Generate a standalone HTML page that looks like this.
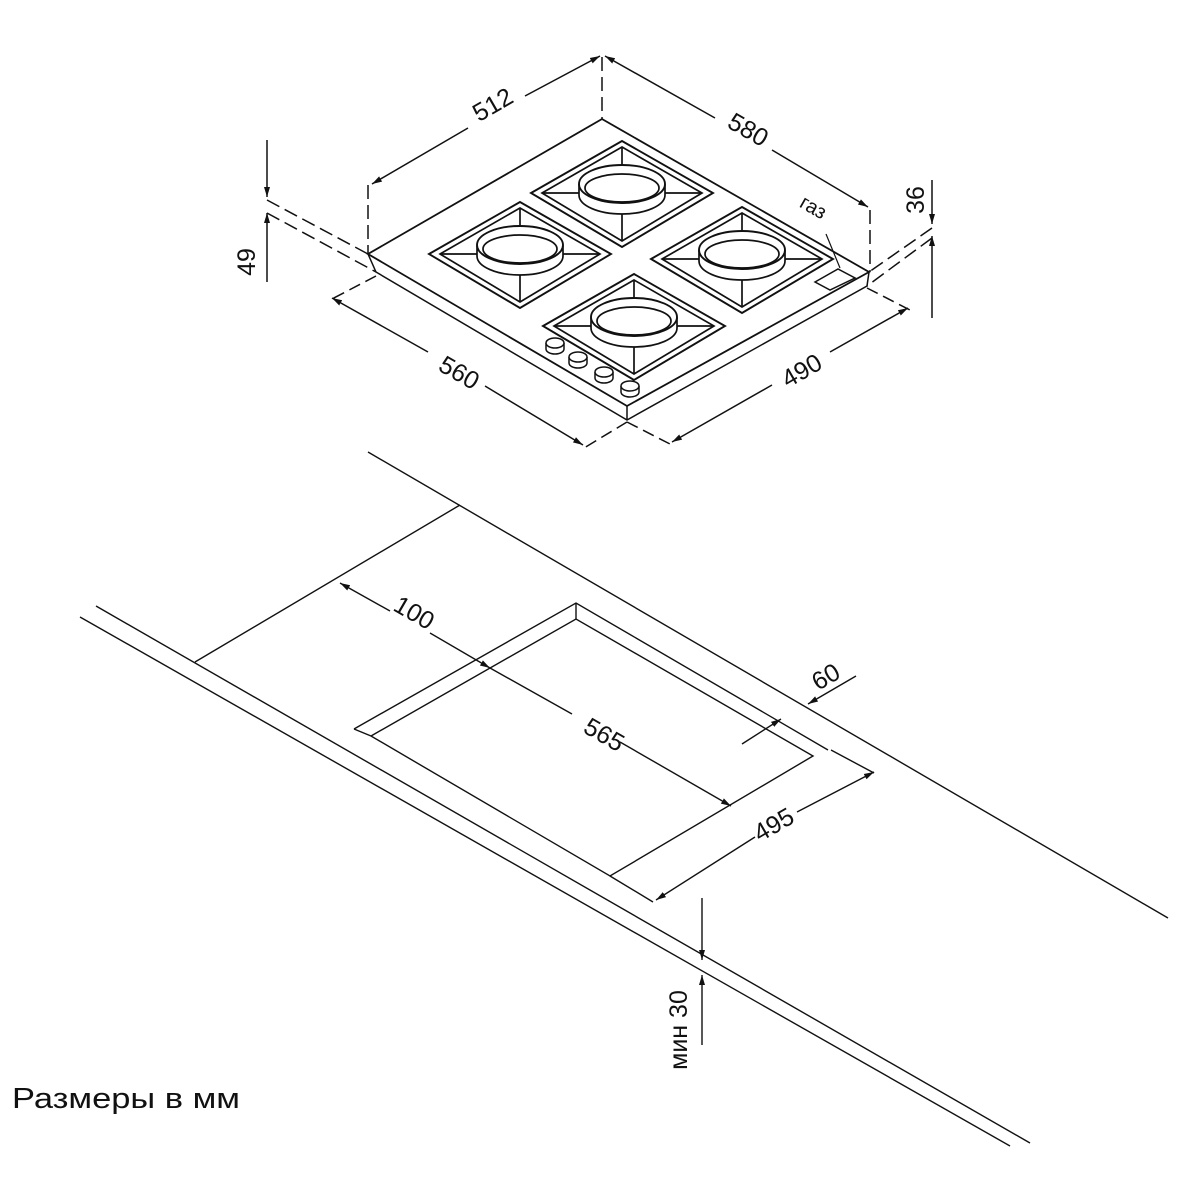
<!DOCTYPE html>
<html><head><meta charset="utf-8"><style>
html,body{margin:0;padding:0;background:#fff}
svg{display:block}
text{font-family:"Liberation Sans","DejaVu Sans",sans-serif;fill:#111}
</style></head><body>
<svg width="1182" height="1182" viewBox="0 0 1182 1182" xmlns="http://www.w3.org/2000/svg">
<defs>
<marker id="a" viewBox="0 0 10 10" refX="10" refY="5" markerWidth="10" markerHeight="10" orient="auto-start-reverse" markerUnits="userSpaceOnUse"><path d="M0,2 L10,5 L0,8 z" fill="#111"/></marker>
<g id="burner">
<path d="M-91,0 L0,-52 L91,0 L0,54 Z" fill="none" stroke="#111" stroke-width="1.9"/>
<path d="M-80,0 L0,-46 L80,0 L0,48 Z" fill="none" stroke="#111" stroke-width="1.7"/>
<path d="M-80,0 L-43,0 M43,0 L80,0 M0,-46 L0,-28 M0,19 L0,48" stroke="#111" stroke-width="1.7"/>
<path d="M-43,-9 L-43,2 A43,19 0 0 0 43,2 L43,-9" fill="#fff" stroke="#111" stroke-width="1.7"/>
<ellipse cx="0" cy="-9" rx="43" ry="19" fill="#fff" stroke="#111" stroke-width="1.9"/>
<ellipse cx="0" cy="-5" rx="37" ry="14" fill="none" stroke="#111" stroke-width="1.7"/>
</g>
<g id="knob">
<path d="M-9,0 L-9,6 A9,5 0 0 0 9,6 L9,0" fill="#fff" stroke="#111" stroke-width="1.5"/>
<ellipse cx="0" cy="0" rx="9" ry="5" fill="#fff" stroke="#111" stroke-width="1.5"/>
</g>
</defs>
<g fill="none" stroke="#111" stroke-width="1.5">
<path d="M602,119 L368,254 L627,406 L869,272 Z" stroke-width="1.8"/>
<path d="M368,254 L376,272 L627,420 L867,286 L869,272 M627,406 L627,420"/>
<path d="M815,282 L838,269 L855,278 L830,290 Z"/>
<path d="M826,234 L840,268" stroke-width="1.2"/>
<path d="M602,57 L602,119" stroke-dasharray="14,6"/>
<path d="M368,185 L368,254" stroke-dasharray="14,6"/>
<path d="M870,210 L870,272" stroke-dasharray="14,6"/>
<path d="M372,184 L468,128" marker-start="url(#a)"/>
<path d="M525,96 L600,56" marker-end="url(#a)"/>
<path d="M605,56 L715,118" marker-start="url(#a)"/>
<path d="M772,150 L868,207" marker-end="url(#a)"/>
<path d="M267,140 L267,197" marker-end="url(#a)"/>
<path d="M267,282 L267,213" marker-end="url(#a)"/>
<path d="M267,200 L368,254 M267,213 L376,272" stroke-dasharray="14,6"/>
<path d="M932,180 L932,224" marker-end="url(#a)"/>
<path d="M932,318 L932,236" marker-end="url(#a)"/>
<path d="M932,228 L869,272 M932,238 L867,286" stroke-dasharray="14,6"/>
<path d="M376,276 L330,300 M627,422 L584,448" stroke-dasharray="12,6"/>
<path d="M332,298 L428,352" marker-start="url(#a)"/>
<path d="M485,386 L583,445" marker-end="url(#a)"/>
<path d="M627,422 L670,444 M867,288 L910,310" stroke-dasharray="12,6"/>
<path d="M672,442 L772,385" marker-start="url(#a)"/>
<path d="M830,352 L908,308" marker-end="url(#a)"/>
</g>
<use href="#burner" x="622" y="193"/>
<use href="#burner" x="520" y="254"/>
<use href="#burner" x="742" y="259"/>
<use href="#burner" x="634" y="326"/>
<use href="#knob" x="555" y="343"/>
<use href="#knob" x="578" y="357"/>
<use href="#knob" x="604" y="372"/>
<use href="#knob" x="630" y="386"/>
<g font-size="25">
<text transform="translate(497,112) rotate(-30)" text-anchor="middle">512</text>
<text transform="translate(744,137) rotate(30)" text-anchor="middle">580</text>
<text transform="translate(255,262) rotate(-90)" text-anchor="middle">49</text>
<text transform="translate(924,200) rotate(-90)" text-anchor="middle">36</text>
<text transform="translate(455,380) rotate(30)" text-anchor="middle">560</text>
<text transform="translate(806,378) rotate(-30)" text-anchor="middle">490</text>
<text transform="translate(810,213) rotate(30)" text-anchor="middle" font-size="20">газ</text>
</g>
<g fill="none" stroke="#111" stroke-width="1.4">
<path d="M368,452 L1168,918"/>
<path d="M96,606 L1030,1143"/>
<path d="M80,617 L1010,1146"/>
<path d="M195,662 L460,505"/>
<path d="M354,729 L576,603 L828,750"/>
<path d="M371,736 L576,619 L813,756 L610,876 L371,736 L354,729"/>
<path d="M576,603 L576,619"/>
<path d="M340,583 L390,611" marker-start="url(#a)"/>
<path d="M430,633 L490,668" marker-end="url(#a)"/>
<path d="M490,668 L572,714" />
<path d="M620,742 L731,806" marker-end="url(#a)"/>
<path d="M831,750 L874,773 M610,876 L653,902"/>
<path d="M656,900 L755,837" marker-start="url(#a)"/>
<path d="M797,812 L874,772" marker-end="url(#a)"/>
<path d="M856,676 L808,704" marker-end="url(#a)"/>
<path d="M742,744 L781,719" marker-end="url(#a)"/>
<path d="M702,898 L702,960" marker-end="url(#a)"/>
<path d="M702,1045 L702,975" marker-end="url(#a)"/>
</g>
<g font-size="25">
<text transform="translate(410,620) rotate(30)" text-anchor="middle">100</text>
<text transform="translate(600,742) rotate(30)" text-anchor="middle">565</text>
<text transform="translate(778,832) rotate(-30)" text-anchor="middle">495</text>
<text transform="translate(830,684) rotate(-30)" text-anchor="middle">60</text>
<text transform="translate(687,1030) rotate(-90)" text-anchor="middle">мин 30</text>
</g>
<text x="12" y="1108" font-size="29" textLength="228" lengthAdjust="spacingAndGlyphs">Размеры в мм</text>
</svg>
</body></html>
